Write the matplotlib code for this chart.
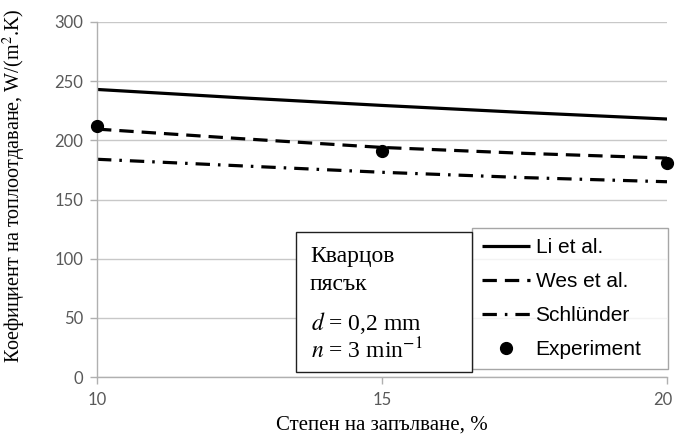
import numpy as np
import matplotlib
matplotlib.use('Agg')
import matplotlib.pyplot as plt
import matplotlib.transforms as mtransforms

# filling degree, %
x_model = [10, 12.5, 15, 17.5, 20]
li_et_al = [243, 236, 229.5, 223.5, 218]
wes_et_al = [209.5, 201.5, 194, 189, 185]
schluender = [184, 178.5, 173, 168.5, 165]

x_exp = [10, 15, 20]
experiment = [212, 191, 181]

x_ticks = [10, 15, 20]
y_ticks = [0, 50, 100, 150, 200, 250, 300]

tick_col = '#595959'
grid_col = '#c8c8c8'
W, H = 675.0, 438.0

fig = plt.figure(figsize=(6.75, 4.38), dpi=100)
ax = fig.add_axes([97 / W, 1 - 377 / H, (667 - 97) / W, (377 - 22) / H])

l1, = ax.plot(x_model, li_et_al, color='black', lw=2.3, solid_capstyle='butt')
l2, = ax.plot(x_model, wes_et_al, color='black', lw=2.3, dashes=(4.5, 2.5))
l3, = ax.plot(x_model, schluender, color='black', lw=2.3, dashes=(4.5, 2.5, 0.8, 2.5))
l4, = ax.plot(x_exp, experiment, 'o', color='black', markersize=8.5, clip_on=False, zorder=5)

ax.set_xlim(10, 20)
ax.set_ylim(0, 300)
ax.set_xticks(x_ticks)
ax.set_yticks(y_ticks)
ax.yaxis.grid(True, color=grid_col, lw=1)
ax.set_axisbelow(True)
for s in ['top', 'right']:
    ax.spines[s].set_visible(False)
for s in ['left', 'bottom']:
    ax.spines[s].set_color('#b0b0b0')
    ax.spines[s].set_linewidth(1)
ax.tick_params(axis='both', colors='#b0b0b0', labelcolor=tick_col, labelsize=12, length=5, width=1)
ax.tick_params(axis='x', pad=6)
ax.tick_params(axis='y', pad=5)
for lab in ax.get_xticklabels() + ax.get_yticklabels():
    lab.set_fontfamily('Lato')
# nudge the last x label so it stays inside the figure
last = ax.get_xticklabels()[-1]
last.set_transform(last.get_transform() + mtransforms.ScaledTranslation(-4 / 100, 0, fig.dpi_scale_trans))

fig.text(382 / W, 1 - 425 / H, 'Степен на запълване, %', fontfamily='Liberation Serif', fontsize=15,
         ha='center', va='center')
fig.text(14 / W, 1 - 186 / H, 'Коефициент на топлоотдаване, W/(m$^2$.K)', fontfamily='Liberation Serif',
         fontsize=14.5, ha='center', va='center', rotation=90, math_fontfamily='stix')

leg = fig.legend([l1, l2, l3, l4], ['Li et al.', 'Wes et al.', 'Schlünder', 'Experiment'],
                 loc='upper left', bbox_to_anchor=(472 / W, 1 - 232 / H, (668 - 472) / W, 0.01),
                 mode='expand', prop={'family': 'Liberation Sans', 'size': 15},
                 frameon=True, fancybox=False, handlelength=2.3, handletextpad=0.25,
                 labelspacing=0.72, borderpad=0.5, borderaxespad=0)
leg.get_frame().set_edgecolor('#909090')
leg.get_frame().set_linewidth(1)

box = plt.Rectangle((296 / W, 1 - 372 / H), (472 - 296) / W, (372 - 232) / H,
                    transform=fig.transFigure, facecolor='white', edgecolor='#202020', lw=1, zorder=10)
fig.add_artist(box)
fig.text(310 / W, 1 - 262 / H, 'Кварцов', fontfamily='Liberation Serif', fontsize=17,
         va='baseline', ha='left', zorder=11)
fig.text(310 / W, 1 - 290 / H, 'пясък', fontfamily='Liberation Serif', fontsize=17,
         va='baseline', ha='left', zorder=11)
fig.text(311 / W, 1 - 330 / H, '$d$ = 0,2 mm', fontfamily='Liberation Serif', fontsize=17,
         va='baseline', ha='left', math_fontfamily='stix', zorder=11)
fig.text(311 / W, 1 - 358 / H, '$n$ = 3 min$^{-1}$', fontfamily='Liberation Serif', fontsize=17,
         va='baseline', ha='left', math_fontfamily='stix', zorder=11)

fig.savefig('out.png', dpi=100)
